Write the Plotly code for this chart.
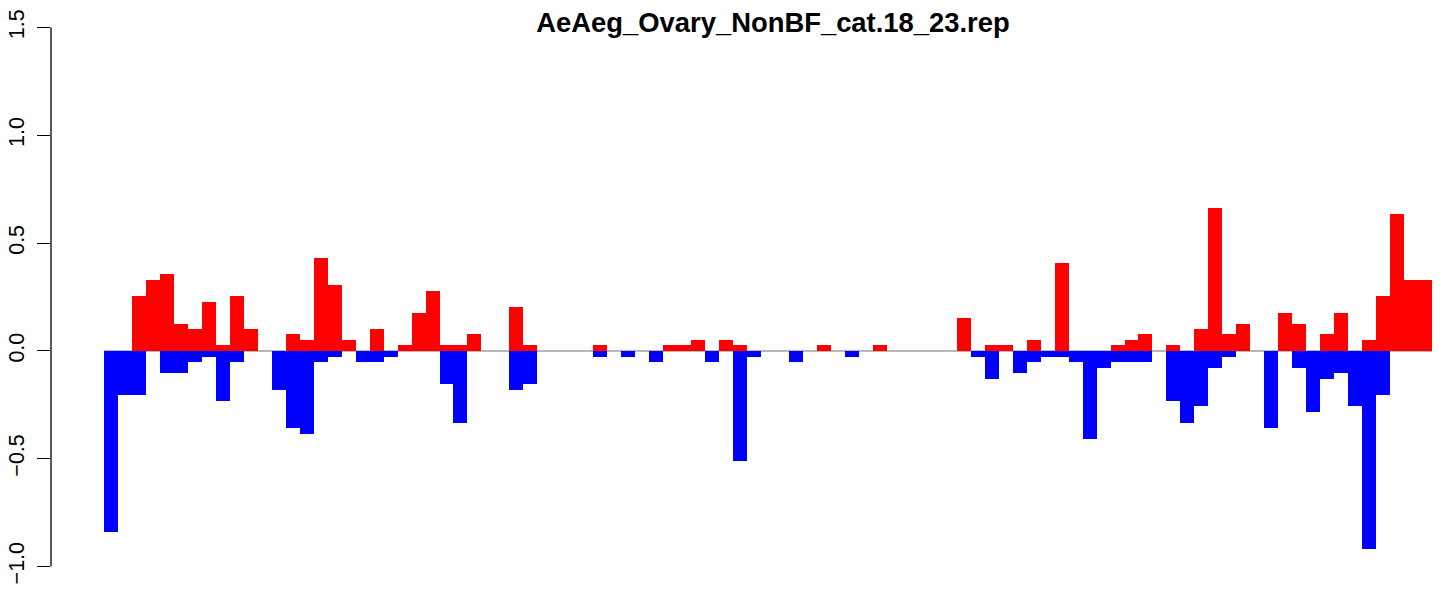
import plotly.graph_objects as go

title = "AeAeg_Ovary_NonBF_cat.18_23.rep"

# bin index along the x axis (95 bins, no names shown)
bins = list(range(95))

# positive part of each bin (red)
up_vals = [
    0, 0, 0.255, 0.329, 0.356, 0.125, 0.102, 0.227, 0.028, 0.255,
    0.102, 0, 0, 0.079, 0.051, 0.430, 0.306, 0.051, 0, 0.102,
    0, 0.028, 0.176, 0.278, 0.028, 0.028, 0.079, 0, 0, 0.204,
    0.028, 0, 0, 0, 0, 0.028, 0, 0, 0, 0,
    0.028, 0.028, 0.051, 0, 0.051, 0.028, 0, 0, 0, 0,
    0, 0.028, 0, 0, 0, 0.028, 0, 0, 0, 0,
    0, 0.153, 0, 0.028, 0.028, 0, 0.051, 0, 0.407, 0,
    0, 0, 0.028, 0.051, 0.079, 0, 0.028, 0, 0.102, 0.662,
    0.079, 0.125, 0, 0, 0.176, 0.125, 0, 0.079, 0.176, 0,
    0.051, 0.255, 0.634, 0.329, 0.329,
]

# negative part of each bin (blue)
down_vals = [
    -0.838, -0.204, -0.204, 0, -0.102, -0.102, -0.051, -0.028, -0.231, -0.051,
    0, 0, -0.181, -0.356, -0.384, -0.051, -0.028, 0, -0.051, -0.051,
    -0.028, 0, 0, 0, -0.153, -0.333, 0, 0, 0, -0.181,
    -0.153, 0, 0, 0, 0, -0.028, 0, -0.028, 0, -0.051,
    0, 0, 0, -0.051, 0, -0.509, -0.028, 0, 0, -0.051,
    0, 0, 0, -0.028, 0, 0, 0, 0, 0, 0,
    0, 0, -0.028, -0.130, 0, -0.102, -0.051, -0.028, -0.028, -0.051,
    -0.407, -0.079, -0.051, -0.051, -0.051, 0, -0.231, -0.333, -0.255, -0.079,
    -0.028, 0, 0, -0.356, 0, -0.079, -0.282, -0.130, -0.102, -0.255,
    -0.917, -0.204, 0, 0, 0,
]

y_ticks = [-1.0, -0.5, 0.0, 0.5, 1.0, 1.5]
y_labels = ["\u22121.0", "\u22120.5", "0.0", "0.5", "1.0", "1.5"]

font_fam = "Liberation Sans, Arial, sans-serif"

fig = go.Figure()
fig.add_trace(go.Bar(x=bins, y=down_vals, width=1, marker=dict(color="#0000FF", line=dict(width=0)),
                     showlegend=False, hoverinfo="skip"))
fig.add_trace(go.Bar(x=bins, y=up_vals, width=1, marker=dict(color="#FF0000", line=dict(width=0)),
                     showlegend=False, hoverinfo="skip"))

# grey zero line under the bars
fig.add_shape(type="line", xref="x", yref="y", x0=bins[0] - 0.5, x1=bins[-1] + 0.5, y0=0, y1=0,
              line=dict(color="#A0A0A0", width=1.5), layer="below")
# R style axis line, only between first and last tick
fig.add_shape(type="line", xref="paper", yref="y", x0=0, x1=0, y0=y_ticks[0], y1=y_ticks[-1],
              line=dict(color="black", width=1.3))

fig.update_layout(
    width=1441, height=590,
    margin=dict(l=51, r=0, t=6, b=2, autoexpand=False),
    plot_bgcolor="white", paper_bgcolor="white",
    barmode="overlay", bargap=0,
    title=dict(text="<b>" + title + "</b>", x=773 / 1441, xref="container", xanchor="center",
               y=1 - 22 / 590, yref="container", yanchor="middle",
               font=dict(family=font_fam, size=27.4, color="black")),
    xaxis=dict(range=[-4.29, 95.14], visible=False, automargin=False),
    yaxis=dict(range=[-1.1, 1.6], tickvals=y_ticks, ticktext=y_labels, tickangle=-90,
               ticks="outside", ticklen=13, tickwidth=1.3, tickcolor="black",
               showgrid=False, zeroline=False, showline=False, automargin=False,
               ticklabelstandoff=4,
               tickfont=dict(family=font_fam, size=21.5, color="black")),
)

# drop the default page margin so the figure sits at the window corner
fig.write_html("out.html", config={"displayModeBar": False},
               post_script="document.body.style.margin='0';")
